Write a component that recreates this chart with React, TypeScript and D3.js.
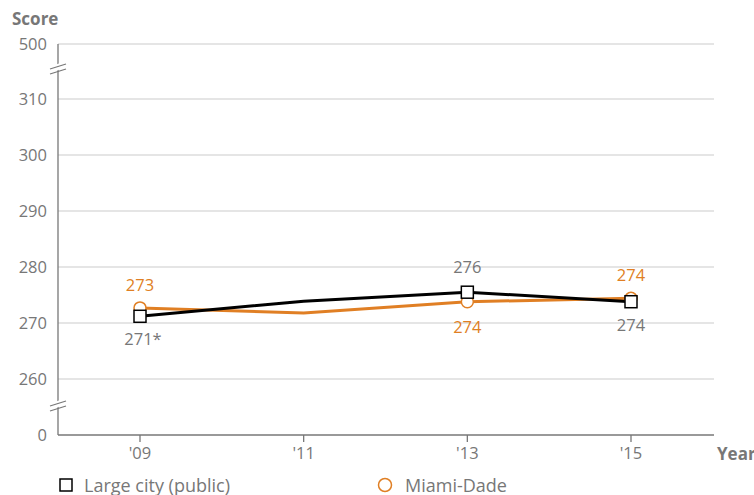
import React from 'react'
import * as d3 from 'd3'

const years = [2009, 2011, 2013, 2015]
const yearLabels = ["'09", "'11", "'13", "'15"]
const largeCity = [271.2, 273.9, 275.5, 273.8]
const largeCityLabels = ['271*', '', '276', '274']
const largeCityMarked = [true, false, true, true]
const miamiDade = [272.7, 271.8, 273.8, 274.4]
const miamiDadeLabels = ['273', '', '274', '274']
const miamiDadeMarked = [true, false, true, true]
const yTicks = [0, 260, 270, 280, 290, 300, 310, 500]

const W = 754
const H = 495
const gray = '#777'
const orange = '#e07f24'
const font = '"Open Sans", "Noto Sans", sans-serif'

export default function App() {
  const x = d3.scaleLinear().domain([2009, 2015]).range([140, 631])
  // broken axis: 0 | 260-310 | 500
  const y = d3.scaleLinear().domain([0, 260, 310, 500]).range([435, 379, 99, 44])

  const line = d3.line<number>()
    .x((d, i) => x(years[i]))
    .y(d => y(d))

  // black line sits above orange at 09 and 13, below at 15
  const lcLabelDy = [1, 0, -1, 1]
  const mdLabelDy = [-1, 0, 1, -1]

  const brk = (yy: number) => (
    <g>
      <line x1={50} x2={66} y1={yy + 2} y2={yy - 4} stroke="#fff" strokeWidth={6} />
      <line x1={50} x2={66} y1={yy + 1} y2={yy - 4} stroke={gray} strokeWidth={1.2} />
      <line x1={50} x2={66} y1={yy + 6} y2={yy + 1} stroke={gray} strokeWidth={1.2} />
    </g>
  )

  return (
    <svg width={W} height={H} style={{ position: 'absolute', left: 0, top: 0, fontFamily: font }}>
      <rect width={W} height={H} fill="#fff" />
      <text x={12} y={25} fill={gray} fontSize={17} fontWeight="bold">Score</text>

      {yTicks.map(t => (
        <g key={t}>
          {t !== 0 && <line x1={58} x2={714} y1={y(t)} y2={y(t)} stroke="#ddd" strokeWidth={1.3} />}
          <text x={47} y={y(t)} dy="0.35em" textAnchor="end" fill={gray} fontSize={16.5}>{t}</text>
        </g>
      ))}

      <line x1={58} x2={58} y1={44} y2={435} stroke={gray} strokeWidth={1.3} />
      <line x1={58} x2={714} y1={435} y2={435} stroke={gray} strokeWidth={1.3} />
      {brk(68)}
      {brk(405)}

      {years.map((yr, i) => (
        <g key={yr}>
          <line x1={x(yr)} x2={x(yr)} y1={435} y2={442} stroke={gray} strokeWidth={1.3} />
          <text x={x(yr)} y={459} textAnchor="middle" fill={gray} fontSize={16.5}>{yearLabels[i]}</text>
        </g>
      ))}
      <text x={717} y={460} fill={gray} fontSize={17} fontWeight="bold">Year</text>

      <path d={line(miamiDade) || ''} fill="none" stroke={orange} strokeWidth={3} />
      <path d={line(largeCity) || ''} fill="none" stroke="#000" strokeWidth={3} />

      {miamiDade.map((v, i) => miamiDadeMarked[i] && (
        <circle key={'m' + i} cx={x(years[i])} cy={y(v)} r={6} fill="#fff" stroke={orange} strokeWidth={1.5} />
      ))}
      {largeCity.map((v, i) => largeCityMarked[i] && (
        <rect key={'l' + i} x={x(years[i]) - 6} y={y(v) - 6} width={12} height={12} fill="#fff" stroke="#000" strokeWidth={1.5} />
      ))}

      {miamiDade.map((v, i) => miamiDadeLabels[i] && (
        <text key={'ml' + i} x={x(years[i])} y={y(v) + (mdLabelDy[i] < 0 ? -17 : 31)} textAnchor="middle" fill={orange} fontSize={16.5}>{miamiDadeLabels[i]}</text>
      ))}
      {largeCity.map((v, i) => largeCityLabels[i] && (
        <text key={'ll' + i} x={x(years[i]) + (largeCityLabels[i].endsWith('*') ? 3 : 0)} y={y(v) + (lcLabelDy[i] < 0 ? -19 : 29)} textAnchor="middle" fill={gray} fontSize={16.5}>{largeCityLabels[i]}</text>
      ))}

      <rect x={60} y={479} width={12} height={12} fill="#fff" stroke="#000" strokeWidth={1.5} />
      <text x={84} y={492} fill={gray} fontSize={18}>Large city (public)</text>
      <circle cx={385} cy={485} r={6.5} fill="#fff" stroke={orange} strokeWidth={1.5} />
      <text x={405} y={492} fill={gray} fontSize={18}>Miami-Dade</text>
    </svg>
  )
}
